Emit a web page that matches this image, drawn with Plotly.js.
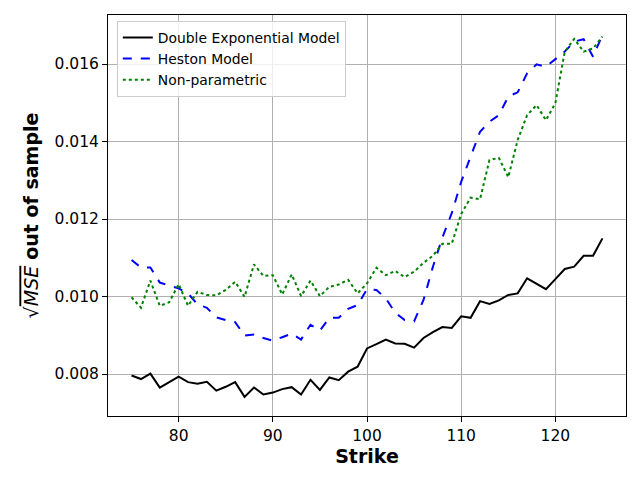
<!DOCTYPE html>
<html>
<head>
<meta charset="utf-8">
<script src="https://cdn.plot.ly/plotly-3.0.1.min.js"></script>
<style>html,body{margin:0;padding:0;background:#fff}#chart{width:640px;height:480px}</style>
</head>
<body>
<div id="chart"></div>
<script>
var strikes = [75,76,77,78,79,80,81,82,83,84,85,86,87,88,89,90,91,92,93,94,95,96,97,98,99,100,101,102,103,104,105,106,107,108,109,110,111,112,113,114,115,116,117,118,119,120,121,122,123,124,125];

var doubleExp = [0.00796,0.00787,0.00801,0.00765,0.00779,0.00793,0.00779,0.00775,0.00780,0.00757,0.00767,0.00779,0.00741,0.00765,0.00747,0.00752,0.00761,0.00766,0.00747,0.00785,0.00759,0.00791,0.00784,0.00806,0.00819,0.00866,0.00877,0.00889,0.00879,0.00878,0.00868,0.00893,0.00908,0.00921,0.00919,0.00949,0.00945,0.00988,0.00981,0.00990,0.01004,0.01008,0.01047,0.01033,0.01019,0.01045,0.01071,0.01077,0.01105,0.01105,0.01150];

var heston = [0.01094,0.01075,0.01075,0.01036,0.01028,0.01021,0.01008,0.00980,0.00971,0.00946,0.00939,0.00934,0.00899,0.00902,0.00893,0.00886,0.00895,0.00904,0.00889,0.00927,0.00912,0.00945,0.00945,0.00968,0.00978,0.01019,0.01017,0.00995,0.00958,0.00939,0.00936,0.00991,0.01077,0.01152,0.01215,0.01296,0.01361,0.01425,0.01451,0.01468,0.01516,0.01527,0.01576,0.01599,0.01593,0.01612,0.01632,0.01658,0.01664,0.01619,0.01675];

var nonParam = [0.00998,0.00971,0.01041,0.00976,0.00985,0.01032,0.00976,0.01012,0.01004,0.01003,0.01017,0.01038,0.00999,0.01083,0.01053,0.01055,0.01005,0.01057,0.01001,0.01041,0.01001,0.01025,0.01031,0.01043,0.01008,0.01034,0.01074,0.01055,0.01066,0.01050,0.01064,0.01087,0.01105,0.01136,0.01136,0.01213,0.01255,0.01251,0.01352,0.01358,0.01308,0.01404,0.01468,0.01494,0.01455,0.01499,0.01632,0.01665,0.01632,0.01640,0.01671];

var yTicks = [0.008,0.010,0.012,0.014,0.016];
var xTicks = [80,90,100,110,120];

var traces = [
  {x: strikes, y: doubleExp, type: 'scatter', mode: 'lines', name: 'Double Exponential Model',
   line: {color: '#000000', width: 2}},
  {x: strikes, y: heston, type: 'scatter', mode: 'lines', name: 'Heston Model',
   line: {color: '#0000ff', width: 2, dash: 'dash'}},
  {x: strikes, y: nonParam, type: 'scatter', mode: 'lines', name: 'Non-parametric',
   line: {color: '#008000', width: 2, dash: 'dot'}}
];

var layout = {
  width: 640, height: 480,
  margin: {l: 108, r: 14, t: 15, b: 64},
  paper_bgcolor: '#ffffff', plot_bgcolor: '#ffffff',
  font: {family: 'DejaVu Sans', color: '#000000', size: 15.5},
  showlegend: true,
  legend: {x: 0.017, y: 0.985, xanchor: 'left', yanchor: 'top',
           bgcolor: 'rgba(255,255,255,0.8)', bordercolor: '#cccccc', borderwidth: 1,
           font: {size: 13.9, family: 'DejaVu Sans'}, tracegroupgap: 0},
  xaxis: {range: [72.5, 127.5], tickvals: xTicks, ticktext: xTicks.map(String),
          showgrid: true, gridcolor: '#b0b0b0', gridwidth: 1,
          showline: true, linecolor: '#000000', linewidth: 1, mirror: true,
          ticks: 'outside', ticklen: 5, tickcolor: '#000000', zeroline: false,
          tickfont: {size: 15.5},
          title: {text: '<b>Strike</b>', font: {size: 19}, standoff: 3}},
  yaxis: {range: [0.006916, 0.017265], tickvals: yTicks, ticktext: yTicks.map(function(v){return v.toFixed(3);}),
          showgrid: true, gridcolor: '#b0b0b0', gridwidth: 1,
          showline: true, linecolor: '#000000', linewidth: 1, mirror: true,
          ticks: 'outside', ticklen: 5, tickcolor: '#000000', zeroline: false,
          tickfont: {size: 15.5},
          title: {text: '√<span style="text-decoration:overline"><i>MSE</i></span> <b>out of sample</b>', font: {size: 19}, standoff: 10}}
};

Plotly.newPlot('chart', traces, layout, {displayModeBar: false, staticPlot: true});
</script>
</body>
</html>
